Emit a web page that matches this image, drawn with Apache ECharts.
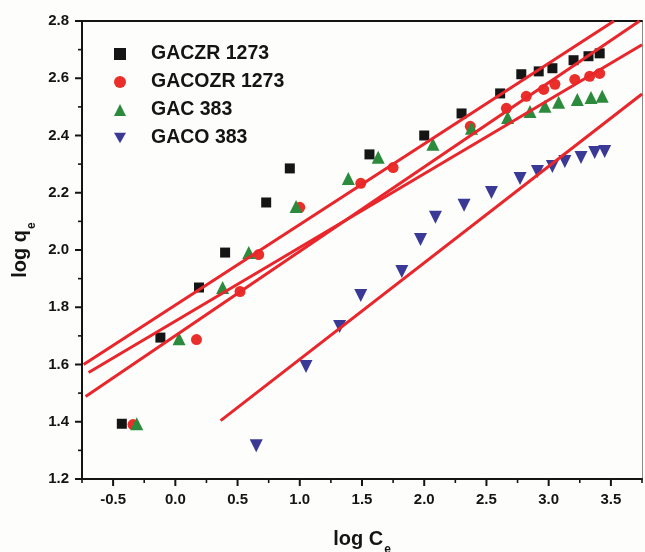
<!DOCTYPE html>
<html>
<head>
<meta charset="utf-8">
<title>Freundlich isotherm plot</title>
<script src="https://cdn.jsdelivr.net/npm/echarts@6/dist/echarts.min.js"></script>
<style>
  html, body { margin: 0; padding: 0; background: #ffffff; }
  #chart { width: 645px; height: 552px; }
</style>
</head>
<body>
<div id="chart"></div>
<script>
// Series names
const seriesNames = ['GACZR 1273', 'GACOZR 1273', 'GAC 383', 'GACO 383'];

// GACZR 1273 (squares)
const gaczrX = [-0.43, -0.12, 0.19, 0.40, 0.73, 0.92, 1.56, 2.00, 2.30, 2.61, 2.78, 2.92, 3.03, 3.20, 3.32, 3.41];
const gaczrY = [1.393, 1.694, 1.869, 1.991, 2.166, 2.285, 2.334, 2.400, 2.477, 2.547, 2.614, 2.624, 2.635, 2.663, 2.677, 2.687];

// GACOZR 1273 (circles)
const gacozrX = [-0.34, 0.17, 0.52, 0.67, 1.00, 1.49, 1.75, 2.37, 2.66, 2.82, 2.96, 3.05, 3.21, 3.33, 3.41];
const gacozrY = [1.390, 1.687, 1.855, 1.984, 2.149, 2.233, 2.288, 2.432, 2.495, 2.537, 2.561, 2.579, 2.596, 2.607, 2.617];

// GAC 383 (triangles)
const gacX = [-0.31, 0.03, 0.38, 0.59, 0.97, 1.39, 1.63, 2.07, 2.38, 2.67, 2.85, 2.97, 3.08, 3.23, 3.34, 3.43];
const gacY = [1.393, 1.690, 1.869, 1.991, 2.152, 2.250, 2.324, 2.369, 2.425, 2.463, 2.484, 2.502, 2.516, 2.526, 2.533, 2.537];

// GACO 383 (inverted triangles)
const gacoX = [0.65, 1.05, 1.32, 1.49, 1.82, 1.97, 2.09, 2.32, 2.54, 2.77, 2.91, 3.03, 3.13, 3.26, 3.37, 3.45];
const gacoY = [1.316, 1.593, 1.733, 1.841, 1.925, 2.037, 2.114, 2.156, 2.201, 2.250, 2.274, 2.292, 2.309, 2.323, 2.341, 2.344];

// Linear fit segments: [start, end] in (log Ce, log qe)
const fitLineA = [[-0.737, 1.600], [3.525, 2.800]];
const fitLineB = [[-0.697, 1.572], [3.750, 2.717]];
const fitLineC = [[-0.721, 1.488], [3.730, 2.800]];
const fitLineD = [[0.364, 1.404], [3.750, 2.545]];

// Axis ranges and tick positions
const xRange = [-0.75, 3.75];
const yRange = [1.2, 2.8];
const xTicks = [-0.5, 0.0, 0.5, 1.0, 1.5, 2.0, 2.5, 3.0, 3.5];
const xMinorTicks = [-0.75, -0.25, 0.25, 0.75, 1.25, 1.75, 2.25, 2.75, 3.25, 3.75];
const yTicks = [1.2, 1.4, 1.6, 1.8, 2.0, 2.2, 2.4, 2.6, 2.8];
const yMinorTicks = [1.3, 1.5, 1.7, 1.9, 2.1, 2.3, 2.5, 2.7];

const zip = (xs, ys) => xs.map((x, i) => [x, ys[i]]);

const FONT = '"Liberation Sans", Arial, sans-serif';
const INK = '#141414';
const FIT_RED = '#e8262b';
const MAJOR_LEN = 7, MINOR_LEN = 4;

const chart = echarts.init(document.getElementById('chart'), null, { renderer: 'canvas' });

const triDown = 'path://M0,0 L12,0 L6,10.4 Z';

const scatter = (name, data, symbol, size, color) => ({
  name, type: 'scatter', xAxisIndex: 0, yAxisIndex: 0,
  data, symbol, symbolSize: size,
  itemStyle: { color, opacity: 1 },
  z: 3
});

const fit = (data) => ({
  type: 'line', xAxisIndex: 0, yAxisIndex: 0,
  data, symbol: 'none', silent: true,
  lineStyle: { color: FIT_RED, width: 3 },
  clip: true, z: 4
});

// Outward tick marks drawn as small filled bars; each item is [value, length, thickness]
const xTickData = xTicks.map(v => [v, MAJOR_LEN, 2]).concat(xMinorTicks.map(v => [v, MINOR_LEN, 1.6]));
const yTickData = yTicks.map(v => [MAJOR_LEN, v, 2]).concat(yMinorTicks.map(v => [MINOR_LEN, v, 1.6]));

const xTickSeries = {
  type: 'custom', xAxisIndex: 0, yAxisIndex: 0,
  silent: true, clip: false, z: 6,
  dimensions: ['value', 'len', 'thick'],
  encode: { x: 0, y: 1 },
  data: xTickData,
  renderItem: (params, api) => {
    const v = api.value(0), len = api.value(1), t = api.value(2);
    const p = api.coord([v, yRange[0]]);
    return { type: 'rect', shape: { x: p[0] - t / 2, y: p[1], width: t, height: len }, style: { fill: INK } };
  }
};

const yTickSeries = {
  type: 'custom', xAxisIndex: 0, yAxisIndex: 0,
  silent: true, clip: false, z: 6,
  dimensions: ['len', 'value', 'thick'],
  encode: { x: 0, y: 1 },
  data: yTickData,
  renderItem: (params, api) => {
    const len = api.value(0), v = api.value(1), t = api.value(2);
    const p = api.coord([xRange[0], v]);
    return { type: 'rect', shape: { x: p[0] - len, y: p[1] - t / 2, width: len, height: t }, style: { fill: INK } };
  }
};

const nameRich = {
  a: { fontFamily: FONT, fontSize: 20, fontWeight: 'bold', color: INK, lineHeight: 24 },
  b: { fontFamily: FONT, fontSize: 12, fontWeight: 'bold', color: INK, lineHeight: 24, verticalAlign: 'bottom', padding: [0, 0, -5, 1] }
};

chart.setOption({
  backgroundColor: '#fdfdfb',
  animation: false,
  textStyle: { fontFamily: FONT },
  grid: { left: 82, right: 3, top: 21, bottom: 73, containLabel: false, outerBoundsMode: 'none' },
  legend: {
    orient: 'vertical',
    left: 109, top: 39,
    itemWidth: 12, itemHeight: 12, itemGap: 8,
    symbolKeepAspect: true,
    data: seriesNames,
    textStyle: {
      fontFamily: FONT, fontSize: 19.5, fontWeight: 'bold', color: INK,
      lineHeight: 20, padding: [0, 0, 0, 20]
    },
    selectedMode: false
  },
  xAxis: [
    {
      type: 'value', position: 'bottom',
      min: xRange[0], max: xRange[1], interval: 0.25,
      splitLine: { show: false },
      axisLine: { show: true, onZero: false, lineStyle: { color: INK, width: 2 } },
      axisTick: { show: false },
      axisLabel: {
        show: true, customValues: xTicks, margin: 13,
        fontFamily: FONT, fontSize: 15, fontWeight: 'bold', color: INK,
        formatter: v => v.toFixed(1)
      },
      name: '{a|log C}{b|e}',
      nameLocation: 'middle', nameGap: 48,
      nameTextStyle: { rich: nameRich }
    },
    {
      // top frame line
      type: 'value', position: 'top',
      min: xRange[0], max: xRange[1],
      splitLine: { show: false },
      axisLine: { show: true, onZero: false, lineStyle: { color: INK, width: 2 } },
      axisTick: { show: false }, axisLabel: { show: false }
    }
  ],
  yAxis: [
    {
      type: 'value', position: 'left',
      min: yRange[0], max: yRange[1], interval: 0.2,
      splitLine: { show: false },
      axisLine: { show: true, onZero: false, lineStyle: { color: INK, width: 2 } },
      axisTick: { show: false },
      axisLabel: {
        margin: 13, fontFamily: FONT, fontSize: 15, fontWeight: 'bold', color: INK,
        formatter: v => v.toFixed(1)
      },
      name: '{a|log q}{b|e}',
      nameLocation: 'middle', nameGap: 45,
      nameTextStyle: { rich: nameRich }
    },
    {
      // right frame line
      type: 'value', position: 'right',
      min: yRange[0], max: yRange[1],
      splitLine: { show: false },
      axisLine: { show: true, onZero: false, lineStyle: { color: '#8a8a8a', width: 1 } },
      axisTick: { show: false }, axisLabel: { show: false }
    }
  ],
  series: [
    scatter(seriesNames[0], zip(gaczrX, gaczrY), 'rect', 10, '#151515'),
    scatter(seriesNames[1], zip(gacozrX, gacozrY), 'circle', 11, '#ea2f2a'),
    scatter(seriesNames[2], zip(gacX, gacY), 'triangle', 13, '#2b8a3c'),
    scatter(seriesNames[3], zip(gacoX, gacoY), triDown, 13, '#3a3a96'),
    fit(fitLineA),
    fit(fitLineB),
    fit(fitLineC),
    fit(fitLineD),
    xTickSeries,
    yTickSeries
  ]
});
</script>
</body>
</html>
